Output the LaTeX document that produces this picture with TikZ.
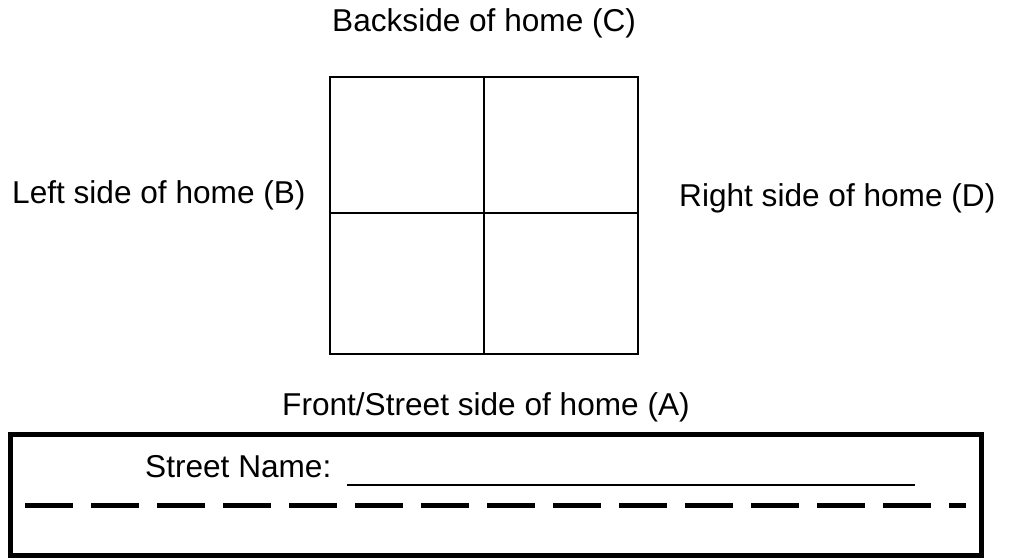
\documentclass[tikz,border=0pt]{standalone}
\usepackage{fontspec}
\setmainfont{Liberation Sans}
\begin{document}
\begin{tikzpicture}[x=1pt,y=-1pt,
  lbl/.style={anchor=base west,inner sep=0pt,font=\fontsize{31.6}{38}\selectfont},
  gridline/.style={line width=2pt},
  boxline/.style={line width=5pt},
  roadline/.style={line width=5.5pt,dash pattern=on 48pt off 18pt},
  nameline/.style={line width=2.7pt}]
\useasboundingbox (0,0) rectangle (1011,559);
% house grid
\coordinate (gtl) at (330,77);
\coordinate (gbr) at (638,354);
\draw[gridline] (gtl) rectangle (gbr);
\coordinate (gmt) at (484,77);
\coordinate (gmb) at (484,354);
\coordinate (gml) at (330,213);
\coordinate (gmr) at (638,213);
\draw[gridline] (gmt) -- (gmb);
\draw[gridline] (gml) -- (gmr);
% labels
\node[lbl] (C) at (332,32) {Backside of home (C)};
\node[lbl] (B) at (12,203) {Left side of home (B)};
\node[lbl] (D) at (679,206) {Right side of home (D)};
\node[lbl] (A) at (282,415) {Front/Street side of home (A)};
% street box
\coordinate (btl) at (10,434);
\coordinate (bbr) at (981.5,555);
\draw[boxline] (btl) rectangle (bbr);
\node[lbl] (SN) at (145,477) {Street Name:};
\coordinate (ul1) at (347,485);
\coordinate (ul2) at (915,485);
\draw[nameline] (ul1) -- (ul2);
\coordinate (rd1) at (25,505.5);
\coordinate (rd2) at (966,505.5);
\draw[roadline] (rd1) -- (rd2);
\end{tikzpicture}
\end{document}
